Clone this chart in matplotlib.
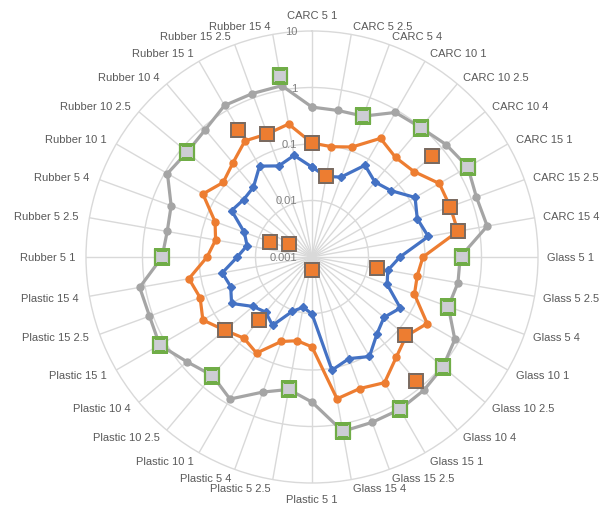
import numpy as np
import matplotlib
matplotlib.use("Agg")
import matplotlib.pyplot as plt

categories = [
    "CARC 5 1", "CARC 5 2.5", "CARC 5 4", "CARC 10 1", "CARC 10 2.5", "CARC 10 4",
    "CARC 15 1", "CARC 15 2.5", "CARC 15 4", "Glass 5 1", "Glass 5 2.5", "Glass 5 4",
    "Glass 10 1", "Glass 10 2.5", "Glass 10 4", "Glass 15 1", "Glass 15 2.5", "Glass 15 4",
    "Plastic 5 1", "Plastic 5 2.5", "Plastic 5 4", "Plastic 10 1", "Plastic 10 2.5", "Plastic 10 4",
    "Plastic 15 1", "Plastic 15 2.5", "Plastic 15 4", "Rubber 5 1", "Rubber 5 2.5", "Rubber 5 4",
    "Rubber 10 1", "Rubber 10 2.5", "Rubber 10 4", "Rubber 15 1", "Rubber 15 2.5", "Rubber 15 4",
]

blue = [0.039, 0.028, 0.032, 0.075, 0.054, 0.067, 0.128, 0.096, 0.123, 0.036, 0.023, 0.026,
        0.064, 0.046, 0.061, 0.108, 0.082, 0.108, 0.0102, 0.008, 0.0106, 0.025, 0.0188, 0.023,
        0.044, 0.034, 0.041, 0.021, 0.0147, 0.0188, 0.044, 0.038, 0.041, 0.072, 0.052, 0.067]

orange = [0.104, 0.096, 0.118, 0.266, 0.200, 0.226, 0.40, 0.40, 0.42, 0.092, 0.078, 0.085,
          0.226, 0.150, 0.208, 0.37, 0.30, 0.354, 0.039, 0.032, 0.039, 0.092, 0.075, 0.104,
          0.170, 0.128, 0.163, 0.072, 0.054, 0.067, 0.170, 0.113, 0.150, 0.236, 0.208, 0.245]

gray = [0.45, 0.43, 0.45, 0.90, 0.98, 1.25, 1.53, 1.25, 1.41, 0.42, 0.42, 0.37,
        0.83, 1.06, 1.20, 1.30, 1.30, 1.36, 0.37, 0.24, 0.35, 0.80, 0.55, 0.77,
        1.30, 1.15, 1.25, 0.45, 0.40, 0.45, 0.90, 0.77, 0.87, 1.25, 1.20, 1.20]

nan = np.nan
green_sq = [nan, nan, 0.45, nan, 0.98, nan, 1.53, nan, nan, 0.45, nan, 0.37,
            nan, 1.06, nan, 1.30, nan, 1.36, nan, 0.24, nan, nan, 0.55, nan,
            1.30, nan, nan, 0.45, nan, nan, nan, 0.77, nan, nan, nan, 1.81]

orange_sq = [0.104, 0.028, nan, nan, nan, 0.60, nan, 0.40, 0.42, nan, 0.0147, nan,
             nan, 0.139, 0.74, nan, nan, nan, 0.0017, nan, nan, nan, 0.028, 0.104,
             nan, nan, nan, nan, nan, 0.0062, 0.0029, nan, nan, 0.40, 0.208, nan]

rticks = [0.001, 0.01, 0.1, 1, 10]
rtick_labels = ["0.001", "0.01", "0.1", "1", "10"]

W, H = 602, 510
fig = plt.figure(figsize=(W / 100, H / 100), dpi=100)
cx, cy, R = 312, 258, 226
ax = fig.add_axes([(cx - R) / W, (H - cy - R) / H, 2 * R / W, 2 * R / H], projection="polar")
ax.set_theta_zero_location("N")
ax.set_theta_direction(-1)
ax.set_rscale("log")
ax.set_rlim(0.001, 10)

n = len(categories)
theta = np.deg2rad(np.arange(n) * 360.0 / n)
ax.set_thetagrids(np.arange(n) * 360.0 / n, labels=[""] * n)
ax.set_rgrids([0.01, 0.1, 1], labels=["", "", ""])
ax.grid(True, color="#D9D9D9", linewidth=1.0)
ax.spines["polar"].set_color("#D9D9D9")
ax.spines["polar"].set_linewidth(1.0)
ax.tick_params(axis="both", length=0)

def closed(v):
    v = list(v)
    return np.r_[theta, theta[0]], np.r_[v, v[0]]

t, v = closed(gray)
ax.plot(t, v, color="#A5A5A5", lw=2.3, marker="o", ms=5, mfc="#A5A5A5", mec="#A5A5A5", zorder=3)
t, v = closed(orange)
ax.plot(t, v, color="#ED7D31", lw=2.3, marker="o", ms=5, mfc="#ED7D31", mec="#ED7D31", zorder=3)
t, v = closed(blue)
ax.plot(t, v, color="#4472C4", lw=2.3, marker="D", ms=4.5, mfc="#4472C4", mec="#4472C4", zorder=3)

ax.plot(theta, green_sq, ls="none", marker="s", ms=9.8, mfc="#CDCDD4", mec="#70AD47", mew=1.6, zorder=4)
ax.plot(theta, orange_sq, ls="none", marker="s", ms=9.8, mfc="#ED7D31", mec="#7A6A60", mew=1.4, zorder=4)

# radial tick labels along the vertical axis
for val, lab in zip(rticks, rtick_labels):
    ax.annotate(lab, xy=(0, val), xytext=(-10.5, 0), textcoords="offset points",
                ha="right", va="center", fontsize=8, color="#7F7F7F",
                family="Liberation Sans", annotation_clip=False, zorder=5)

# category labels
for ang, lab in zip(theta, categories):
    s, c = np.sin(ang), np.cos(ang)
    if abs(s) < 0.05:
        ax.annotate(lab, xy=(ang, 10), xytext=(0, 8 * np.sign(c)), textcoords="offset points",
                    ha="center", va="bottom" if c > 0 else "top", fontsize=8, color="#595959",
                    family="Liberation Sans", annotation_clip=False)
    else:
        dx = 6.5 * s if s > 0 else 8 * s
        ax.annotate(lab, xy=(ang, 10), xytext=(dx, 6.5 * c), textcoords="offset points",
                    ha="left" if s > 0 else "right", va="center", fontsize=8, color="#595959",
                    family="Liberation Sans", annotation_clip=False)

fig.savefig("out.png", dpi=100)
